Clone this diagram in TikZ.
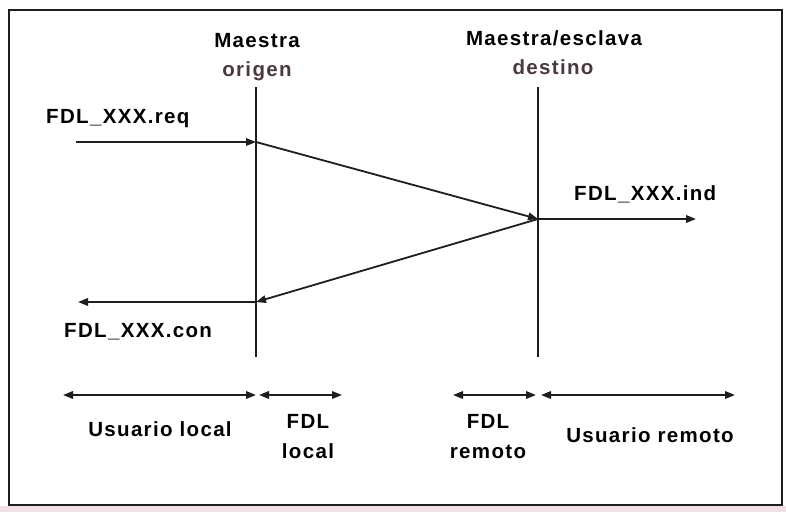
\documentclass[tikz,border=0pt]{standalone}
\usepackage{fontspec}
\setmainfont{Liberation Sans}[LetterSpace=6.5]
\usetikzlibrary{arrows.meta}
\definecolor{ink}{HTML}{1E1E1E}
\definecolor{soft}{HTML}{4A3A3E}
\definecolor{strip}{HTML}{F0E0E8}
\begin{document}
\begin{tikzpicture}[x=1pt,y=-1pt,
  lbl/.style={font=\fontsize{20.5}{24}\selectfont\bfseries, inner sep=0pt, anchor=base, text=black},
  sub/.style={lbl, text=soft},
  lifeline/.style={draw=ink, line width=1.4pt},
  tip/.style={Triangle[length=10pt,width=7.5pt]},
  msg/.style={draw=ink, line width=1.8pt, -{Triangle[length=10pt,width=7.5pt]}},
  span/.style={draw=ink, line width=1.8pt, {Triangle[length=10pt,width=7.5pt]}-{Triangle[length=10pt,width=7.5pt]}}]
  % canvas and frame
  \useasboundingbox (0,0) rectangle (786,512);
  \fill[white] (0,0) rectangle (786,512);
  \fill[strip] (0,506) rectangle (786,512);
  \draw[draw=ink, line width=2pt] (9,10) rectangle (782,505);

  % lifelines
  \coordinate (oTop) at (256,87);
  \coordinate (oBot) at (256,357);
  \coordinate (dTop) at (538,87);
  \coordinate (dBot) at (538,357);
  \draw[lifeline] (oTop) -- (oBot);
  \draw[lifeline] (dTop) -- (dBot);

  % message points
  \coordinate (reqIn)  at (76,142);
  \coordinate (reqAt)  at (256,142);
  \coordinate (indAt)  at (538,219);
  \coordinate (indOut) at (696,219);
  \coordinate (conAt)  at (256,302);
  \coordinate (conOut) at (78,302);

  \draw[msg] (reqIn) -- (reqAt);
  \draw[msg] (reqAt) -- (indAt);
  \draw[msg] (indAt) -- (indOut);
  \draw[msg] (indAt) -- (conAt);
  \draw[msg] (conAt) -- (conOut);

  % headers
  \node[lbl] (mo) at (257,47) {Maestra};
  \node[sub] (og) at (257,76) {origen};
  \node[lbl] (md) at (554,45) {Maestra/esclava};
  \node[sub] (ds) at (553,74) {destino};

  % primitive labels
  \node[lbl, anchor=base west] (req) at (46,123) {FDL\_XXX.req};
  \node[lbl, anchor=base west] (ind) at (574,200) {FDL\_XXX.ind};
  \node[lbl, anchor=base west] (con) at (64,337) {FDL\_XXX.con};

  % layer spans
  \coordinate (ul1) at (63,395);  \coordinate (ul2) at (256,395);
  \coordinate (fl1) at (259,395); \coordinate (fl2) at (342,395);
  \coordinate (fr1) at (453,395); \coordinate (fr2) at (536,395);
  \coordinate (ur1) at (541,395); \coordinate (ur2) at (735,395);
  \draw[span] (ul1) -- (ul2);
  \draw[span] (fl1) -- (fl2);
  \draw[span] (fr1) -- (fr2);
  \draw[span] (ur1) -- (ur2);

  \node[lbl] (ulT) at (160,436) {Usuario local};
  \node[lbl] (flA) at (308,428) {FDL};
  \node[lbl] (flB) at (308,458) {local};
  \node[lbl] (frA) at (488,428) {FDL};
  \node[lbl] (frB) at (488,458) {remoto};
  \node[lbl] (urT) at (650,442) {Usuario remoto};
\end{tikzpicture}
\end{document}
